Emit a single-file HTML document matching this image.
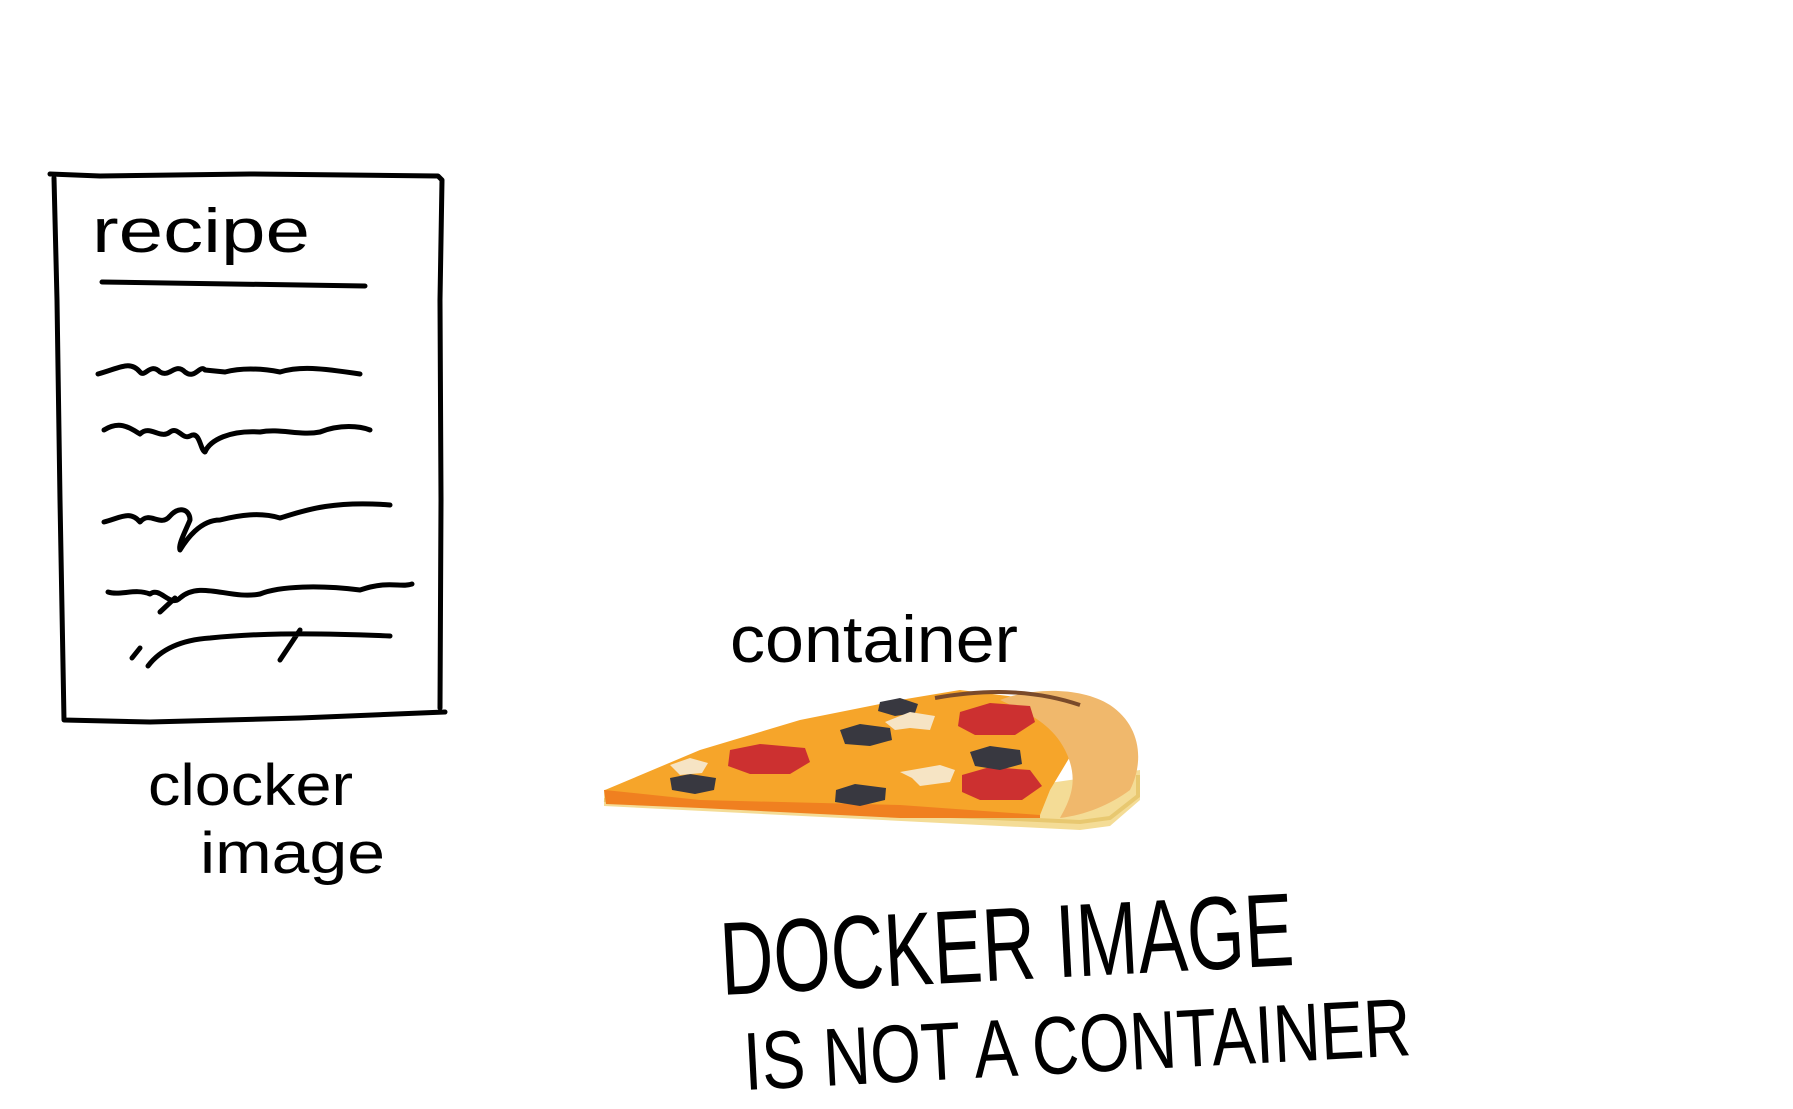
<!DOCTYPE html>
<html><head><meta charset="utf-8"><style>
html,body{margin:0;padding:0;background:#fff;}
svg{display:block;}
text{font-family:"Liberation Sans",sans-serif;fill:#000;}
</style></head><body>
<svg width="1793" height="1109" viewBox="0 0 1793 1109" xmlns="http://www.w3.org/2000/svg">
<g fill="none" stroke="#000" stroke-width="5" stroke-linecap="round" stroke-linejoin="round">
<path d="M50 174 L100 176 L250 174 L438 176 L442 180 L440 300 L441 500 L440 708"/>
<path d="M54 178 L57 300 L60 500 L64 720 L150 722 L300 718 L445 712"/>
<path d="M102 282 L365 286"/>
<path d="M98 374 C120 368 130 360 140 372 C145 378 150 362 160 372 C170 378 175 362 185 372 C195 380 200 364 205 370 L225 372 C240 368 260 368 280 372 C300 366 320 368 360 374"/>
<path d="M104 430 C120 420 130 428 140 434 C150 424 160 440 170 432 C178 426 182 440 190 436 C200 430 200 450 205 452 C210 440 230 430 260 432 C280 428 300 436 320 432 C340 424 360 426 370 430"/>
<path d="M104 522 C120 518 130 510 140 522 C150 510 160 528 170 516 C180 505 190 510 190 520 C185 532 178 545 180 550 C186 540 200 520 220 520 C240 515 260 512 280 518 C300 512 330 500 390 505"/>
<path d="M108 592 C120 596 135 588 150 594 C160 586 170 608 180 598 C200 580 230 600 260 594 C280 586 320 585 360 590 C390 580 400 588 412 584 M160 612 L175 598"/>
<path d="M132 658 L140 648 M148 666 C160 650 180 640 210 638 C250 634 300 632 390 636 M300 630 L280 660"/>
</g>
<text x="92" y="252" font-size="62" textLength="218" lengthAdjust="spacingAndGlyphs">recipe</text>
<text x="148" y="805" font-size="58" textLength="205" lengthAdjust="spacingAndGlyphs">clocker</text>
<text x="200" y="873" font-size="58" textLength="185" lengthAdjust="spacingAndGlyphs">image</text>
<text x="730" y="662" font-size="66" textLength="288" lengthAdjust="spacingAndGlyphs">container</text>
<text x="722" y="995" font-size="104" textLength="574" lengthAdjust="spacingAndGlyphs" transform="rotate(-3 722 995)">DOCKER IMAGE</text>
<text x="745" y="1090" font-size="82" textLength="668" lengthAdjust="spacingAndGlyphs" transform="rotate(-3 745 1090)">IS NOT A CONTAINER</text>
<g>
<path d="M604 806 L1080 830 L1110 826 L1140 800 L1140 770 L1000 790 L604 790 Z" fill="#f4dc96"/>
<path d="M604 800 L1080 822 L1110 818 L1138 796 L1138 775" fill="none" stroke="#e8c870" stroke-width="4"/>
<path d="M604 790 L606 804 L700 808 L900 818 L1040 818 L1040 790 L950 770 Z" fill="#f08020"/>
<path d="M605 790 L700 750 L800 720 L900 700 L960 690 L1040 700 L1080 740 L1050 790 L1040 815 L900 805 L700 800 Z" fill="#f6a52a"/>
<path d="M1000 700 C1030 688 1080 686 1110 705 C1140 725 1145 760 1130 790 C1110 805 1085 815 1060 818 C1070 800 1080 780 1065 750 C1050 720 1020 710 1000 700 Z" fill="#f0b86c"/>
<path d="M935 698 C980 690 1030 688 1080 705" fill="none" stroke="#7a4a2a" stroke-width="4"/>
<g fill="#cc3030">
<polygon points="960,712 990,703 1030,706 1035,722 1015,735 975,735 958,726"/>
<polygon points="730,750 760,744 805,748 810,762 790,774 750,774 728,766"/>
<polygon points="962,775 990,767 1030,770 1042,786 1022,800 980,800 962,792"/>
</g>
<g fill="#383840">
<polygon points="880,702 900,698 918,704 915,713 895,716 878,711"/>
<polygon points="840,730 860,724 890,728 892,740 870,746 845,744"/>
<polygon points="970,752 990,746 1020,750 1022,764 1000,770 975,766"/>
<polygon points="670,778 690,774 716,778 714,790 695,794 672,790"/>
<polygon points="836,790 855,784 886,788 885,800 860,806 835,802"/>
</g>
<g fill="#f6e4c4">
<polygon points="885,722 910,712 935,716 930,730 910,728 895,730"/>
<polygon points="900,772 940,765 955,770 950,782 920,786 912,778"/>
<polygon points="670,765 690,758 708,763 702,773 680,775"/>
</g>
</g>
</svg>
</body></html>
